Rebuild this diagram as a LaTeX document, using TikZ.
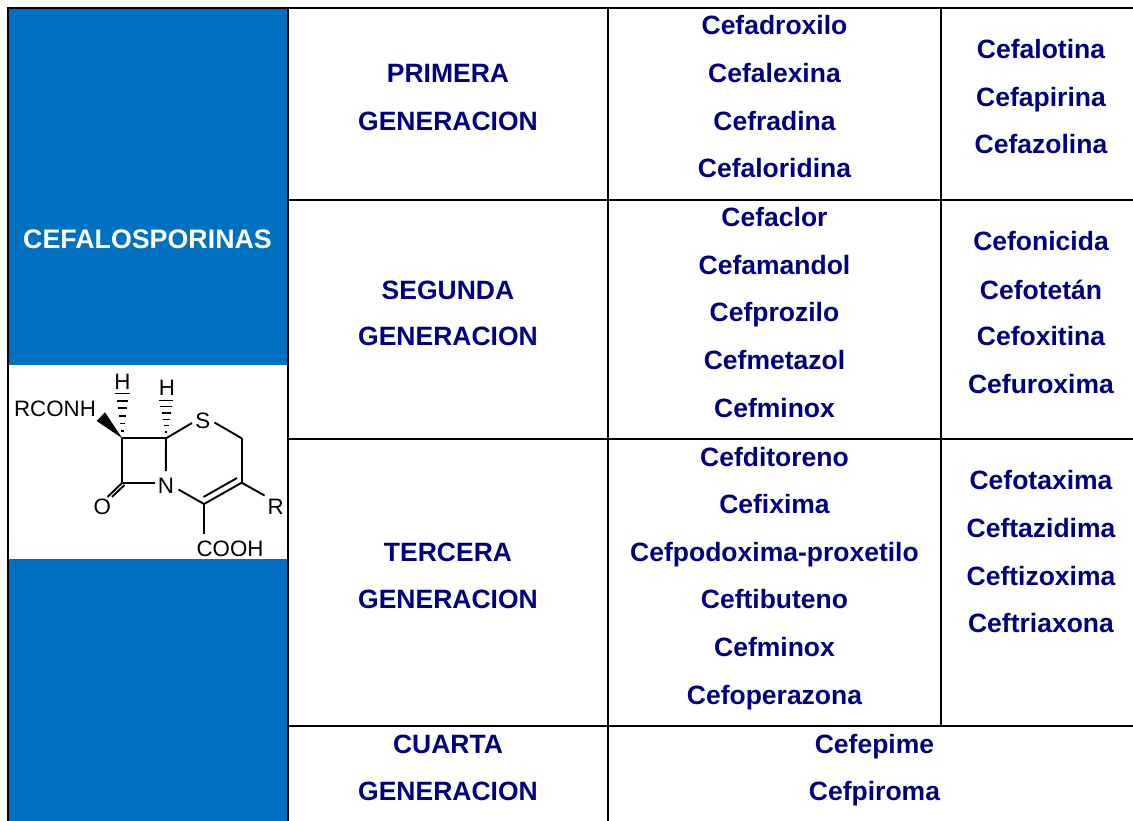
\documentclass[tikz,border=0pt]{standalone}
\usepackage{fontspec}
\usetikzlibrary{calc}
\setmainfont{Liberation Sans}
\definecolor{panelblue}{HTML}{0070C0}
\definecolor{drugnavy}{HTML}{000080}
\tikzset{
  grid/.style={draw=black,line width=2pt,line cap=rect},
  label/.style={text=drugnavy,font=\fontsize{26.5}{30}\selectfont\bfseries,anchor=base,inner sep=0pt},
  atom/.style={text=black,font=\fontsize{22.3}{26}\selectfont,inner sep=1.5pt,fill=none},
  bond/.style={draw=black,line width=1.9pt},
}
\begin{document}
\begin{tikzpicture}[x=1pt,y=-1pt]
\useasboundingbox (0,0) rectangle (1133,821);
\fill[white] (0,0) rectangle (1133,821);
\fill[panelblue] (8,8) rectangle (288,821);
\fill[white] (8,365) rectangle (288,559);
% grid
\draw[grid] (8,8) -- (1133,8);
\draw[grid] (8,8) -- (8,821);
\draw[grid] (288,8) -- (288,821);
\draw[grid] (608,8) -- (608,821);
\draw[grid] (941,8) -- (941,726);
\draw[grid] (288,200) -- (1133,200);
\draw[grid] (288,439) -- (1133,439);
\draw[grid] (288,726) -- (1133,726);
% title
\node[label,text=white,font=\fontsize{26.8}{30}\selectfont\bfseries] (title) at (147.5,249) {CEFALOSPORINAS};
% generations
\node[label] (g1a) at (448,83) {PRIMERA};
\node[label] (g1b) at (448,131) {GENERACION};
\node[label] (g2a) at (448,299) {SEGUNDA};
\node[label] (g2b) at (448,345) {GENERACION};
\node[label] (g3a) at (448,561) {TERCERA};
\node[label] (g3b) at (448,608) {GENERACION};
\node[label] (g4a) at (448,753) {CUARTA};
\node[label] (g4b) at (448,800) {GENERACION};
% column 2
\node[label] (a1) at (774.5,35) {Cefadroxilo};
\node[label] (a2) at (774.5,83) {Cefalexina};
\node[label] (a3) at (774.5,131) {Cefradina};
\node[label] (a4) at (774.5,178) {Cefaloridina};
\node[label] (b1) at (774.5,227) {Cefaclor};
\node[label] (b2) at (774.5,275) {Cefamandol};
\node[label] (b3) at (774.5,321) {Cefprozilo};
\node[label] (b4) at (774.5,369) {Cefmetazol};
\node[label] (b5) at (774.5,417) {Cefminox};
\node[label] (c1) at (774.5,466) {Cefditoreno};
\node[label] (c2) at (774.5,513) {Cefixima};
\node[label] (c3) at (774.5,561) {Cefpodoxima-proxetilo};
\node[label] (c4) at (774.5,608) {Ceftibuteno};
\node[label] (c5) at (774.5,656) {Cefminox};
\node[label] (c6) at (774.5,704) {Cefoperazona};
% column 3
\node[label] (d1) at (1041,59) {Cefalotina};
\node[label] (d2) at (1041,107) {Cefapirina};
\node[label] (d3) at (1041,154) {Cefazolina};
\node[label] (e1) at (1041,251) {Cefonicida};
\node[label] (e2) at (1041,299) {Cefotetán};
\node[label] (e3) at (1041,345) {Cefoxitina};
\node[label] (e4) at (1041,393) {Cefuroxima};
\node[label] (f1) at (1041,489) {Cefotaxima};
\node[label] (f2) at (1041,537) {Ceftazidima};
\node[label] (f3) at (1041,585) {Ceftizoxima};
\node[label] (f4) at (1041,632) {Ceftriaxona};
% cuarta
\node[label] (h1) at (874.5,753) {Cefepime};
\node[label] (h2) at (874.5,800) {Cefpiroma};
% molecule
\coordinate (C7) at (122.3,438.3);
\coordinate (C6) at (166,438.3);
\coordinate (C2) at (241.7,438.3);
\coordinate (C3) at (241.7,482.7);
\coordinate (C4) at (204,504);
\coordinate (C8) at (122.3,482.7);
\node[atom] (S) at (202.7,420.5) {S};
\node[atom] (N) at (166,486) {N};
\node[atom] (O) at (102.3,507) {O};
\node[atom] (R) at (275.7,507) {R};
\node[atom] (COOH) at (230,549) {COOH};
\node[atom] (RCONH) at (55,409) {RCONH};
\node[atom] (H1) at (122.5,382) {H};
\node[atom] (H2) at (167,388) {H};
\draw[bond] (C7) -- (C6);
\draw[bond] (C7) -- (C8);
\draw[bond] (C6) -- (165.8,471);
\draw[bond] (C8) -- (155,482.7);
\draw[bond] (C6) -- (192,423);
\draw[bond] (214.5,422.5) -- (C2);
\draw[bond] (C2) -- (C3);
\draw[bond] (C3) -- (C4);
\draw[bond] (203.5,497) -- (237,478);
\draw[bond] (178.5,489.5) -- (C4);
\draw[bond] (C3) -- (264.5,495.5);
\draw[bond] (C4) -- (204,534);
\draw[bond] (C8) -- (107.5,497);
\draw[bond] (124.5,485) -- (112,497);
\fill[black] (C7) -- (96.7,421) -- (105,412.3) -- cycle;
% hashed bonds
\foreach \f/\w in {0.167/2.5,0.333/5,0.5/7,0.667/9,0.833/11.5,1/14.5}{
  \draw[black,line width=1.6pt] ($(C7)+(-\w/2,-\f*45)$) -- ++(\w,0);
  \draw[black,line width=1.6pt] ($(C6)+(-\w/2,-\f*38)$) -- ++(\w,0);
}
\end{tikzpicture}
\end{document}
